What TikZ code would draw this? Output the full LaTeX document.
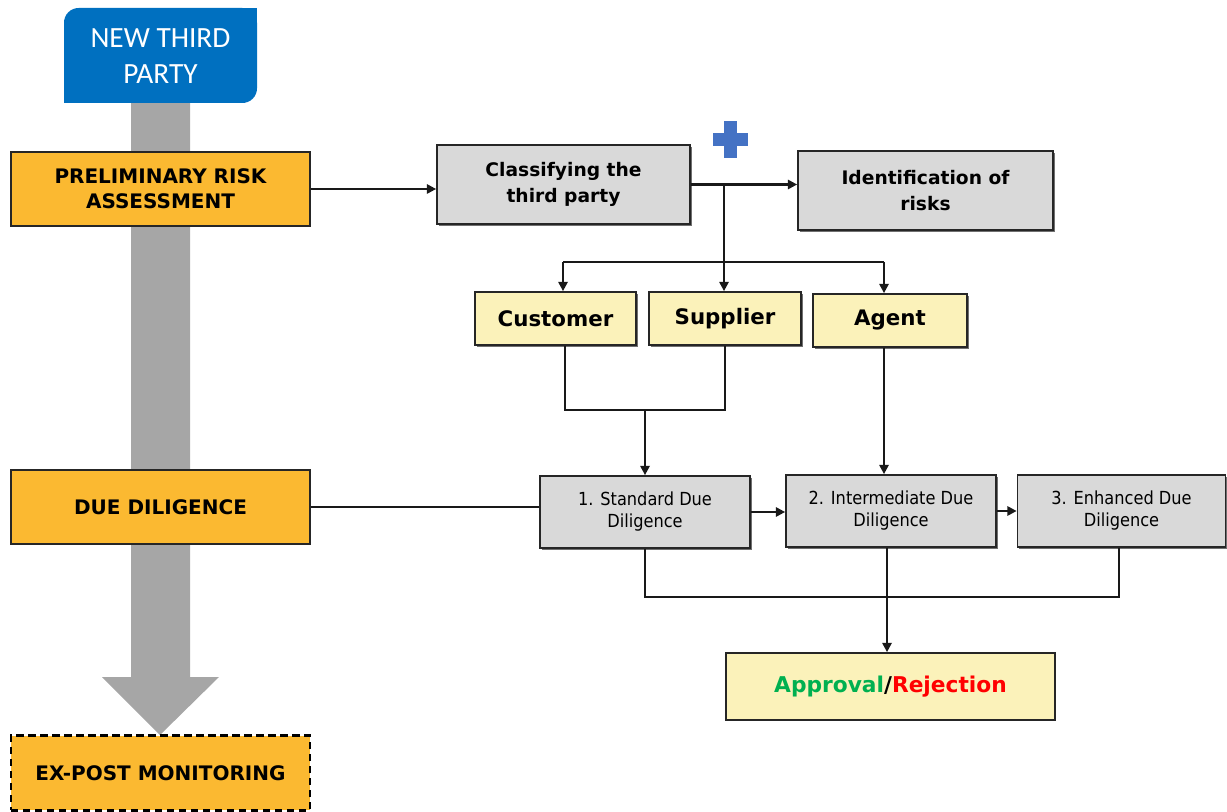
\documentclass[tikz,border=0pt]{standalone}
\usepackage{fontspec}
\setmainfont{DejaVu Sans}
\newfontfamily\carl{Carlito}
\newfontfamily\narrowfont[FakeStretch=0.9]{DejaVu Sans}
\usetikzlibrary{arrows.meta,shadows}
\definecolor{orangeC}{HTML}{FBB931}
\definecolor{grayC}{HTML}{D9D9D9}
\definecolor{yellowC}{HTML}{FBF2BA}
\definecolor{blueC}{HTML}{0070C0}
\definecolor{plusC}{HTML}{4472C4}
\definecolor{arrowgray}{HTML}{A6A6A6}
\definecolor{greenC}{HTML}{00B050}
\definecolor{redC}{HTML}{FF0000}
\tikzset{
  box/.style={draw=black!85, line width=1.3pt, inner sep=0pt, align=center},
  orangebox/.style={box, fill=orangeC, font=\fontsize{15}{19}\selectfont\bfseries,
    minimum width=224.25pt, minimum height=56pt},
  graybold/.style={box, fill=grayC, font=\fontsize{14}{19.5}\selectfont\bfseries,
    drop shadow={shadow xshift=1.2pt, shadow yshift=-1.2pt, fill=black!70, opacity=0.8}},
  grayreg/.style={box, fill=grayC, font=\narrowfont\fontsize{13.5}{16.5}\selectfont,
    minimum width=157.5pt, minimum height=54pt,
    drop shadow={shadow xshift=1.2pt, shadow yshift=-1.2pt, fill=black!70, opacity=0.8}},
  yellowbox/.style={box, fill=yellowC, font=\fontsize{16}{19}\selectfont\bfseries,
    minimum height=39.75pt,
    drop shadow={shadow xshift=1.2pt, shadow yshift=-1.2pt, fill=black!70, opacity=0.8}},
  conn/.style={line width=1.6pt, draw=black!90},
  arr/.style={conn, -{Triangle[length=7pt,width=7pt]}},
}
\begin{document}
\begin{tikzpicture}[x=0.75pt,y=-0.75pt]
\useasboundingbox (0,0) rectangle (1227,812);

% big gray arrow
\fill[arrowgray] (131,103) -- (190,103) -- (190,677) -- (219,677) -- (160,735)
  -- (102,677) -- (131,677) -- cycle;

% NEW THIRD PARTY
\fill[blueC, rounded corners=11pt] (64,8) rectangle (257,103);
\fill[blueC] (237,8) rectangle (257,28);
\fill[blueC] (64,83) rectangle (84,103);
\node[align=center, text=white, font=\carl\fontsize{22}{27}\selectfont,
  minimum width=144.75pt, minimum height=71.25pt, inner sep=0pt] (ntp) at (160.5,56)
  {NEW THIRD\\PARTY};

% left column
\node[orangebox] (pra) at (160.5,189) {PRELIMINARY RISK\\ASSESSMENT};
\node[orangebox, minimum height=55.5pt] (dd) at (160.5,507) {DUE DILIGENCE};
\node[orangebox, draw=black, line width=2pt, dash pattern=on 5.5pt off 3.5pt] (epm) at (160.5,773)
  {EX-POST MONITORING};

% top right
\node[graybold, minimum width=189.75pt, minimum height=59.25pt] (cls) at (563.5,184.5)
  {Classifying the\\third party};
\node[graybold, minimum width=191.25pt, minimum height=59.25pt] (idr) at (925.5,190.5)
  {Identification of\\risks};

% plus sign
\fill[plusC] (712.5,133) rectangle (747.5,146);
\fill[plusC] (723.5,121) rectangle (736.5,158);

% categories
\node[yellowbox, minimum width=120.75pt] (cust) at (555.5,318.5) {Customer};
\node[yellowbox, minimum width=114pt] (supp) at (725,318.5) {Supplier};
\node[yellowbox, minimum width=115.5pt] (agent) at (890,320.5) {Agent};

% due diligence levels
\node[grayreg] (std) at (645,512) {1. Standard Due\\Diligence};
\node[grayreg] (inter) at (891,511) {2. Intermediate Due\\Diligence};
\node[grayreg, minimum width=156pt] (enh) at (1121.5,511) {3. Enhanced Due\\Diligence};

% approval
\node[box, fill=yellowC, minimum width=246.75pt, minimum height=50.25pt,
  font=\fontsize{16.3}{19}\selectfont\bfseries] (appr) at (890.5,686.5)
  {\textcolor{greenC}{Approval}/\textcolor{redC}{Rejection}};

% connectors
\draw[arr] (pra.east) -- (pra.east -| cls.west);
\draw[arr] (cls.east) -- (cls.east -| idr.west);
\coordinate (b2) at (724,262);
\coordinate (b1) at (cls.east -| b2);
\coordinate (hl) at (563,262);
\coordinate (hr) at (884,262);
\draw[conn] (b1) -- (b2);
\draw[conn] (hl) -- (hr);
\draw[arr] (hl) -- (hl |- cust.north);
\draw[arr] (b2) -- (b2 |- supp.north);
\draw[arr] (hr) -- (hr |- agent.north);

\coordinate (cb) at (565,410);
\coordinate (sb) at (725,410);
\coordinate (m1) at (645,410);
\draw[conn] (cb |- cust.south) -- (cb) -- (sb) -- (sb |- supp.south);
\draw[arr] (m1) -- (m1 |- std.north);
\coordinate (a1) at (884,347);
\draw[arr] (a1 |- agent.south) -- (a1 |- inter.north);

\draw[conn] (dd.east) -- (dd.east -| std.west);
\draw[arr] (std.east) -- (std.east -| inter.west);
\draw[arr] (inter.east) -- (inter.east -| enh.west);

\coordinate (j) at (887,597);
\coordinate (jl) at (645,597);
\coordinate (jr) at (1119,597);
\draw[conn] (jl |- std.south) -- (jl) -- (jr) -- (jr |- enh.south);
\draw[conn] (j |- inter.south) -- (j);
\draw[arr] (j) -- (j |- appr.north);
\end{tikzpicture}
\end{document}
